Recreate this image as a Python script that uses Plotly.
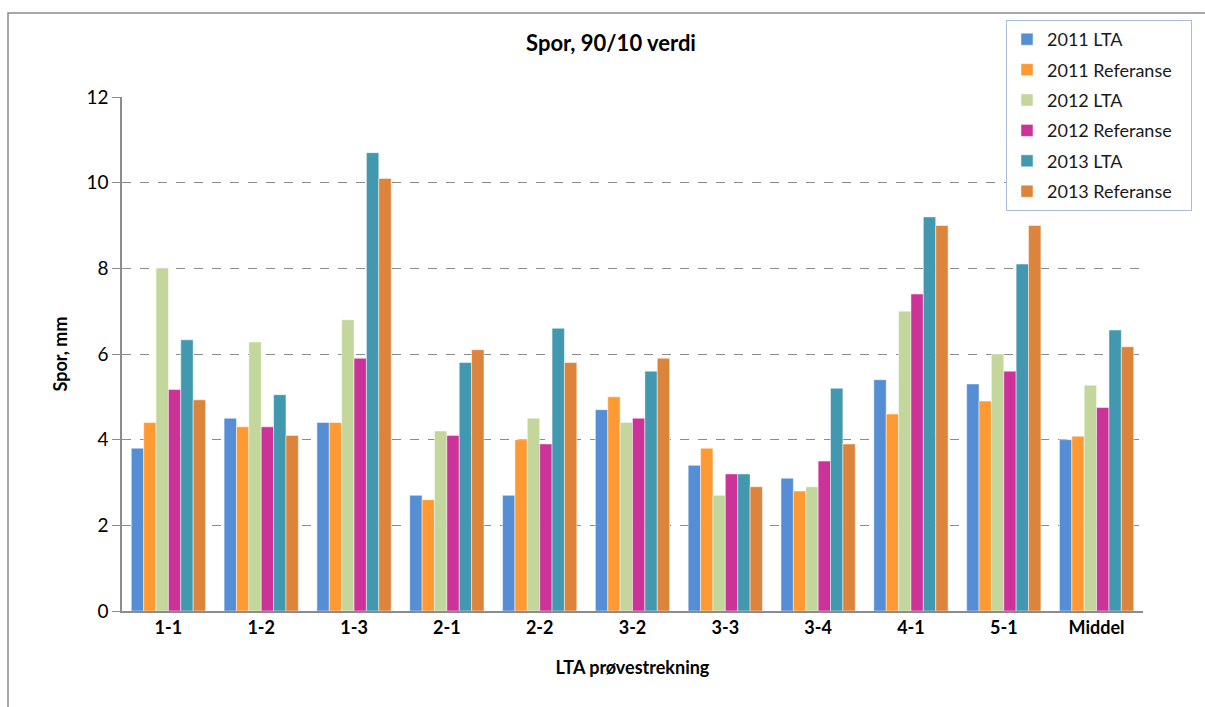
import plotly.graph_objects as go

categories = ["1-1", "1-2", "1-3", "2-1", "2-2", "3-2", "3-3", "3-4", "4-1", "5-1", "Middel"]
lta_2011 = [3.8, 4.5, 4.4, 2.7, 2.7, 4.7, 3.4, 3.1, 5.4, 5.3, 4.0]
ref_2011 = [4.4, 4.3, 4.4, 2.6, 4.0, 5.0, 3.8, 2.8, 4.6, 4.9, 4.08]
lta_2012 = [8.0, 6.28, 6.8, 4.2, 4.5, 4.4, 2.7, 2.9, 7.0, 6.0, 5.27]
ref_2012 = [5.17, 4.3, 5.9, 4.1, 3.9, 4.5, 3.2, 3.5, 7.4, 5.6, 4.75]
lta_2013 = [6.33, 5.05, 10.7, 5.8, 6.6, 5.6, 3.2, 5.2, 9.2, 8.1, 6.56]
ref_2013 = [4.93, 4.1, 10.1, 6.1, 5.8, 5.9, 2.9, 3.9, 9.0, 9.0, 6.17]

series_names = ["2011 LTA", "2011 Referanse", "2012 LTA", "2012 Referanse", "2013 LTA", "2013 Referanse"]
series_values = [lta_2011, ref_2011, lta_2012, ref_2012, lta_2013, ref_2013]
series_colors = ["#558ED5", "#FF9933", "#C3D69B", "#CC3399", "#4298AF", "#DD843C"]

FONT = "Lato, Carlito, Calibri, sans-serif"

fig = go.Figure()
for i, (name, vals, col) in enumerate(zip(series_names, series_values, series_colors)):
    fig.add_trace(go.Bar(
        x=categories, y=vals, name=name + "   ",
        marker=dict(color=col, line=dict(color="rgba(255,255,255,0.6)", width=0.8)),
        legendgroup=f"g{i}",
    ))

fig.update_layout(
    width=1205, height=707,
    margin=dict(l=122, r=62, t=97, b=96),
    paper_bgcolor="white", plot_bgcolor="white",
    font=dict(family=FONT, size=18, color="#000000"),
    barmode="group", bargap=0.2, bargroupgap=0,
    title=dict(text="<b>Spor, 90/10 verdi</b>", x=611/1205, xanchor="center",
               y=1 - 43/707, yanchor="middle", font=dict(size=22, family=FONT)),
    legend=dict(
        x=(1006 - 122) / 1021, xanchor="left",
        y=(611 - 20) / 514, yanchor="top",
        bordercolor="#A9BCD8", borderwidth=1, bgcolor="white",
        font=dict(size=18, family=FONT, color="#1a1a1a"),
        traceorder="grouped", tracegroupgap=4,
        itemwidth=30,
    ),
    xaxis=dict(
        showline=True, linecolor="#8C8C8C", linewidth=1.5,
        ticks="", tickfont=dict(size=18, family=FONT),
        tickprefix="<b>", ticksuffix="</b>",
        title=dict(text="<b>LTA prøvestrekning</b>", font=dict(size=18, family=FONT), standoff=24),
    ),
    yaxis=dict(
        range=[0, 12], dtick=2, tick0=0,
        showline=True, linecolor="#8C8C8C", linewidth=1.5,
        ticks="outside", ticklen=8, tickcolor="#8C8C8C",
        showgrid=True, gridcolor="#8C8C8C", griddash="dash", gridwidth=1,
        tickfont=dict(size=19, family=FONT),
        zeroline=False,
        title=dict(text="<b>Spor, mm</b>", font=dict(size=18, family=FONT), standoff=14),
    ),
)

fig.add_shape(type="rect", xref="paper", yref="paper",
              x0=(8 - 122) / 1021, x1=(1240 - 122) / 1021,
              y0=(611 - 740) / 514, y1=(611 - 13) / 514,
              line=dict(color="#8C8C8C", width=1.5), fillcolor="rgba(0,0,0,0)", layer="below")

fig.write_html("out.html")
